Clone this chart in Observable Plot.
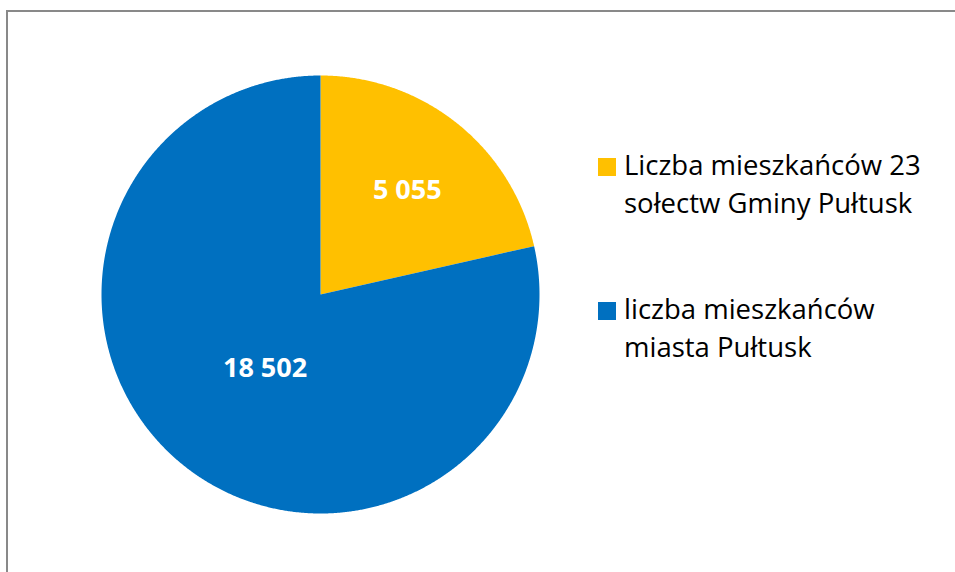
<!DOCTYPE html>
<html>
<head>
<meta charset="utf-8">
<script src="https://cdn.jsdelivr.net/npm/d3@7"></script>
<script src="https://cdn.jsdelivr.net/npm/@observablehq/plot@0.6"></script>
<style>
  html, body { margin: 0; padding: 0; width: 955px; height: 572px; overflow: hidden; background: #fff; }
  #frame { position: absolute; left: 6px; top: 10px; width: 1000px; height: 1000px; border: 2px solid #898989; box-sizing: border-box; }
  #chart { position: absolute; left: 0; top: 0; }
  #legend { position: absolute; left: 598px; top: 0; font-family: "Open Sans", sans-serif; font-size: 27.5px; color: #000; }
  .item { position: absolute; left: 0; white-space: nowrap; }
  .sw { position: absolute; left: 0; width: 18px; height: 18px; }
  .txt { position: absolute; left: 26px; line-height: 38px; }
</style>
</head>
<body>
<div id="frame"></div>
<div id="chart"></div>
<div id="legend"></div>
<script>
const categories = ["Liczba mieszkańców 23 sołectw Gminy Pułtusk", "liczba mieszkańców miasta Pułtusk"];
const legendLines = [["Liczba mieszkańców 23", "sołectw Gminy Pułtusk"], ["liczba mieszkańców", "miasta Pułtusk"]];
const values = [5055, 18502];
const valueLabels = ["5 055", "18 502"];
const colors = ["#FFC000", "#0070C0"];

const cx = 320, cy = 294, R = 219;
const labelFrac = [0.62, 0.42];

const pie = d3.pie().sort(null).value(d => d)(values);
const polys = [];
pie.forEach((p, i) => {
  polys.push({i, x: 0, y: 0});
  const n = Math.max(8, Math.ceil((p.endAngle - p.startAngle) / 0.005));
  for (let k = 0; k <= n; k++) {
    const a = p.startAngle + (p.endAngle - p.startAngle) * k / n;
    polys.push({i, x: Math.sin(a), y: Math.cos(a)});
  }
  polys.push({i, x: 0, y: 0});
});
const labels = pie.map((p, i) => {
  const a = (p.startAngle + p.endAngle) / 2;
  return {i, x: labelFrac[i] * Math.sin(a), y: labelFrac[i] * Math.cos(a), t: valueLabels[i]};
});

const chart = Plot.plot({
  width: 955, height: 572,
  margin: 0,
  x: {domain: [-1, 1], range: [cx - R, cx + R], axis: null},
  y: {domain: [-1, 1], range: [cy + R, cy - R], axis: null},
  color: {domain: categories.map((c, i) => i), range: colors},
  marks: [
    Plot.line(polys, {x: "x", y: "y", z: "i", fill: d => d.i, stroke: "none", curve: "linear"}),
    Plot.text(labels, {x: "x", y: "y", text: "t", fill: "white", fontSize: 27, fontWeight: "bold",
      fontFamily: "'Open Sans', sans-serif", textAnchor: "middle", lineAnchor: "middle", dx: 2, dy: 2})
  ],
  style: {background: "transparent"}
});
document.getElementById("chart").appendChild(chart);

const legendTops = [158, 302];
const legend = document.getElementById("legend");
categories.forEach((c, i) => {
  const item = document.createElement("div");
  item.className = "item";
  item.style.top = legendTops[i] + "px";
  const sw = document.createElement("div");
  sw.className = "sw";
  sw.style.background = colors[i];
  item.appendChild(sw);
  const txt = document.createElement("div");
  txt.className = "txt";
  txt.style.top = "-12px";
  txt.innerHTML = legendLines[i].join("<br>");
  item.appendChild(txt);
  legend.appendChild(item);
});
</script>
</body>
</html>
